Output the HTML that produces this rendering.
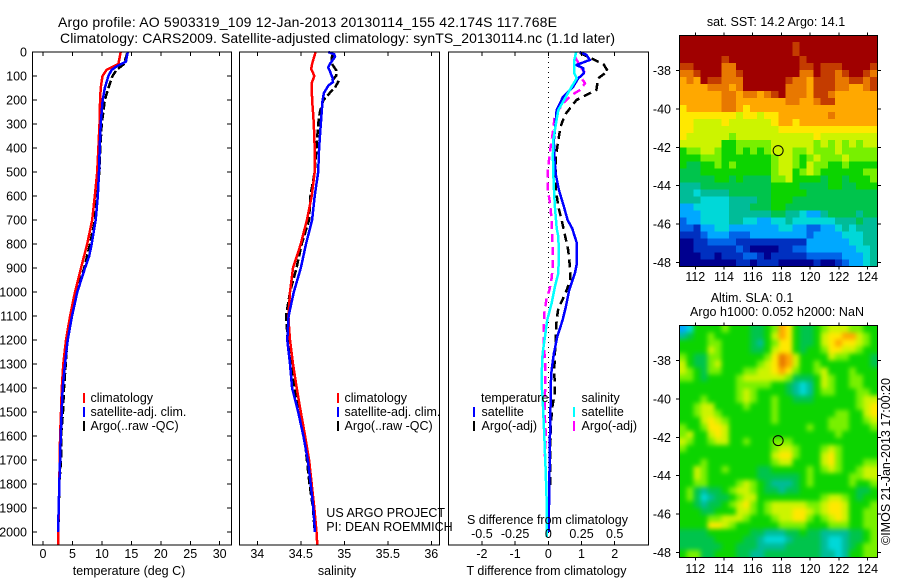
<!DOCTYPE html>
<html>
<head>
<meta charset="utf-8">
<title>Argo profile</title>
<style>
html,body{margin:0;padding:0;background:#fff;}
svg{display:block;font-family:"Liberation Sans",Arial,sans-serif;font-size:12.5px;fill:#000;}
text{fill:#000;}
.t14{font-size:14px;}
</style>
</head>
<body>
<svg id="fig" width="900" height="580" viewBox="0 0 900 580" xmlns="http://www.w3.org/2000/svg">
<defs>
<clipPath id="slaClip"><rect x="679.5" y="325.5" width="198" height="232"/></clipPath>
<filter id="slaBlur" filterUnits="userSpaceOnUse" x="650" y="300" width="250" height="280" color-interpolation-filters="sRGB"><feGaussianBlur stdDeviation="2.4"/></filter>
</defs>
<rect x="0" y="0" width="900" height="580" fill="#fff"/>
<text class="t14" x="58" y="27" textLength="499" lengthAdjust="spacing">Argo profile: AO 5903319_109 12-Jan-2013 20130114_155 42.174S 117.768E</text>
<text class="t14" x="60" y="43" textLength="555" lengthAdjust="spacing">Climatology: CARS2009. Satellite-adjusted climatology: synTS_20130114.nc (1.1d later)</text>
<g id="cells1"></g>
<g clip-path="url(#slaClip)"><g id="cells2" filter="url(#slaBlur)"></g></g>
<g id="marks"></g>
<g id="axes"></g>

<text x="90.5" y="402">climatology</text>
<text x="90.5" y="416">satellite-adj. clim.</text>
<text x="90.5" y="430">Argo(..raw -QC)</text>
<text x="344.5" y="402">climatology</text>
<text x="344.5" y="416">satellite-adj. clim.</text>
<text x="344.5" y="430">Argo(..raw -QC)</text>
<text x="481" y="402">temperature</text>
<text x="481.5" y="416">satellite</text>
<text x="481.5" y="430">Argo(-adj)</text>
<text x="581.5" y="402">salinity</text>
<text x="581.5" y="416">satellite</text>
<text x="581.5" y="430">Argo(-adj)</text>
<text x="326.3" y="517">US ARGO PROJECT</text>
<text x="326.3" y="531">PI: DEAN ROEMMICH</text>
<text x="467" y="524">S difference from climatology</text>
<text x="129" y="575" text-anchor="middle">temperature (deg C)</text>
<text x="337" y="575" text-anchor="middle">salinity</text>
<text x="546.5" y="575" text-anchor="middle">T difference from climatology</text>
<text x="776" y="26" text-anchor="middle">sat. SST: 14.2 Argo: 14.1</text>
<text x="710.7" y="302">Altim. SLA: 0.1</text>
<text x="690" y="316" textLength="174" lengthAdjust="spacing">Argo h1000: 0.052 h2000: NaN</text>
<text transform="translate(890,545) rotate(-90)" textLength="167" lengthAdjust="spacing">©IMOS 21-Jan-2013 17:00:20</text>
</svg>
<script>
// ---- tick labels ----
const depthTicks = [0,100,200,300,400,500,600,700,800,900,1000,1100,1200,1300,1400,1500,1600,1700,1800,1900,2000];
const tempTicks = [0,5,10,15,20,25,30];
const salTicks = [34,34.5,35,35.5,36];
const tDiffTicks = [-2,-1,0,1,2];
const sDiffTicks = [-0.5,-0.25,0,0.25,0.5];
const lonTicks = [112,114,116,118,120,122,124];
const latTicks = [38,40,42,44,46,48];
const argoLon = 117.768;
const argoLat = 42.174;

// ---- temperature profiles ----
const tempClimDepth = [0,50,74,100,150,200,300,400,500,600,700,800,900,1000,1100,1200,1300,1400,1500,1600,1700,1800,1900,2000,2054];
const tempClim = [13.2,12.8,10.8,10.1,9.8,9.7,9.6,9.4,9.2,8.8,8.35,7.5,6.45,5.43,4.6,3.9,3.45,3.2,3.05,2.9,2.83,2.77,2.67,2.6,2.6];
const tempSatDepth = [0,25,40,60,75,100,150,200,300,400,500,600,700,800,850,900,1000,1100,1200,1300,1400,1500,1600,1700,1800,1900,2000];
const tempSat = [14.4,14.2,14.1,12.5,11.65,11.1,10.5,10.13,9.8,9.62,9.5,9.3,8.95,8.26,7.85,7.13,5.83,4.92,4.2,3.73,3.34,3.17,3.0,2.9,2.77,2.67,2.55];
const tempArgoDepth = [5,50,75,100,150,200,250,300,400,500,600,700,800,900,1000,1100,1200,1300,1400,1500,1600,1700,1800,2000];
const tempArgo = [14.3,13.75,12.5,11.8,11.1,10.5,10.24,9.96,9.73,9.57,9.05,8.83,7.98,7.0,5.7,4.75,4.13,3.85,3.57,3.4,3.05,3.05,2.77,2.6];

// ---- salinity profiles ----
const salClimDepth = [0,25,50,70,100,130,200,250,300,400,500,600,700,800,900,1000,1100,1150,1200,1300,1400,1500,1600,1700,1800,1900,2000,2054];
const salClim = [34.67,34.65,34.63,34.62,34.655,34.625,34.63,34.64,34.65,34.66,34.66,34.625,34.57,34.5,34.41,34.376,34.357,34.365,34.376,34.41,34.453,34.5,34.55,34.595,34.625,34.655,34.68,34.69];
const salSatDepth = [0,10,20,50,65,80,110,125,140,170,200,250,300,400,500,600,700,800,900,1000,1100,1200,1300,1400,1500,1600,1700,1800,1900,2000];
const salSat = [34.816,34.885,34.893,34.835,34.815,34.835,34.867,34.87,34.817,34.767,34.75,34.74,34.73,34.71,34.7,34.66,34.63,34.56,34.5,34.42,34.36,34.345,34.376,34.4,34.47,34.53,34.58,34.614,34.644,34.663];
const salArgoDepth = [5,25,50,75,100,115,125,150,170,200,250,300,400,500,600,700,800,900,1000,1100,1200,1300,1400,1500,1600,1700,1800,1900,2000];
const salArgo = [34.87,34.855,34.86,34.905,34.905,34.87,34.93,34.89,34.835,34.76,34.72,34.7,34.68,34.66,34.61,34.594,34.51,34.45,34.376,34.33,34.35,34.395,34.425,34.49,34.54,34.57,34.6,34.64,34.66];

// ---- difference profiles ----
const dTSatDepth = [0,12,33,54,68,89,110,144,186,242,297,367,436,506,575,644,700,735,797,880,922,992,1061,1117,1186,1256,1325,1394,1458,1597,1806,2000];
const dTSat = [0.95,1.15,1.25,0.85,1.05,1.07,0.9,0.75,0.45,0.25,0.22,0.17,0.18,0.22,0.32,0.47,0.58,0.72,0.86,0.86,0.8,0.63,0.53,0.43,0.27,0.17,0.1,0.07,0.07,0.05,0.03,0.01];
const dTArgoDepth = [3,17,40,50,82,89,110,158,172,200,235,262,311,367,436,506,575,644,700,762,825,894,950,992,1026,1068,1117,1186,1256,1325,1422,1471,1540,1644,1811];
const dTArgo = [0.95,1.15,1.5,1.66,1.8,1.7,1.5,1.45,1.25,0.85,0.65,0.5,0.37,0.3,0.23,0.22,0.23,0.3,0.4,0.5,0.6,0.65,0.67,0.55,0.45,0.3,0.25,0.23,0.2,0.18,0.2,0.13,0.08,0.06,0.05];
const dSSatDepth = [0,33,89,110,144,186,242,297,367,436,506,575,644,735,769,839,922,978,1047,1117,1186,1256,1325,1394,1437,1506,1597,1736,1875,2020];
const dSSat = [0.21,0.196,0.196,0.214,0.176,0.133,0.075,0.058,0.038,0.035,0.038,0.043,0.05,0.063,0.075,0.08,0.075,0.05,0.025,-0.008,-0.025,-0.043,-0.048,-0.05,-0.043,-0.038,-0.03,-0.02,-0.012,-0.012];
const dSArgoDepth = [20,68,82,110,130,158,179,214,262,339,394,450,506,575,630,700,728,811,894,943,992,1026,1089,1158,1228,1283,1339,1422,1458,1506,1603,1686];
const dSArgo = [0.2,0.25,0.27,0.25,0.276,0.24,0.176,0.113,0.05,0.033,0.018,0.005,-0.005,-0.003,0.013,0.025,0.025,0.033,0.033,0.025,0.008,-0.013,-0.03,-0.035,-0.033,-0.025,-0.023,-0.025,-0.025,-0.028,-0.018,-0.028];

// ---- map colour levels (0 = navy ... 14 = dark red) ----
const colorLevels = ['#00008f','#0030c0','#0064e8','#00a8ff','#00d8d8','#00bc98','#00c44c','#0cd400','#78f000','#ccf400','#ffe800','#ffa800','#e87800','#c43c00','#a00000'];
const sstLevels = [
[14,14,14,14,14,14,14,14,14,14,14,14,14,14,14,14,14,14,14,14,14,14,14,14,14,14,14,14],
[14,14,14,14,14,14,14,14,14,14,14,14,14,14,14,14,13,14,14,14,14,14,14,14,14,14,14,14],
[14,14,14,14,14,14,14,14,14,14,14,14,14,14,14,14,13,14,14,14,14,14,14,14,14,14,14,14],
[14,14,14,14,14,14,13,14,14,14,14,14,14,14,14,14,14,13,14,14,14,14,14,14,14,14,14,14],
[13,13,14,14,14,14,12,12,14,14,14,14,14,14,14,14,14,13,13,14,13,13,13,14,14,14,14,13],
[12,12,13,14,14,14,12,12,13,14,14,14,14,14,14,14,14,12,12,14,13,13,12,13,14,14,13,12],
[11,12,11,14,13,13,12,12,12,14,14,14,14,14,14,13,12,12,11,13,13,13,12,12,13,13,12,13],
[11,11,11,11,12,12,12,11,12,14,14,14,14,14,14,12,12,12,11,13,13,13,12,12,11,11,12,13],
[11,11,11,11,11,11,12,12,11,12,12,11,12,13,14,12,12,12,11,13,13,12,11,11,11,11,11,11],
[11,11,11,11,11,11,12,12,11,11,11,11,11,11,11,12,12,11,11,12,13,13,11,11,11,11,11,11],
[10,11,11,11,11,11,12,12,11,10,11,11,11,11,11,11,11,11,11,11,11,11,11,11,11,11,11,11],
[10,10,10,10,10,10,10,10,9,10,10,9,10,10,11,11,11,11,11,11,11,12,11,11,11,11,11,11],
[10,10,9,9,9,9,10,9,9,9,9,9,9,10,11,11,10,11,11,11,11,11,11,11,11,11,11,11],
[10,10,9,9,9,9,9,9,9,9,9,9,9,9,10,10,10,10,10,10,10,10,10,10,10,10,10,10],
[10,9,9,9,9,9,9,8,9,9,9,9,9,9,9,9,9,9,9,10,9,9,9,9,9,9,9,9],
[9,9,9,9,9,9,7,7,8,8,8,8,8,9,9,9,9,9,9,8,9,8,9,8,9,8,9,9],
[7,8,8,9,9,8,7,7,8,7,8,7,8,9,9,9,8,8,9,8,8,8,9,8,8,8,8,8],
[7,7,7,8,8,8,7,7,7,7,7,7,7,8,9,9,8,7,8,9,8,8,8,9,8,8,8,8],
[7,6,6,7,7,8,7,8,7,7,7,7,7,8,9,9,8,7,9,8,8,7,7,8,7,7,7,7],
[6,6,6,7,7,7,7,7,7,7,7,7,7,8,9,9,7,8,9,8,7,7,7,7,7,7,8,8],
[6,6,6,6,6,7,7,6,7,6,6,6,6,8,8,9,7,7,7,7,6,7,7,6,7,7,7,8],
[5,5,5,6,6,6,6,6,6,6,6,6,6,7,7,7,7,6,6,6,6,7,7,6,6,7,7,7],
[5,5,4,5,5,5,5,6,6,6,6,6,6,7,7,7,7,7,6,6,6,6,6,6,6,6,6,6],
[5,5,5,4,4,4,4,5,5,5,5,6,6,7,7,7,6,6,6,6,6,6,6,6,6,6,6,6],
[3,3,4,4,4,4,4,5,5,5,6,6,6,7,7,6,6,6,6,6,6,6,6,6,6,6,6,6],
[3,3,3,4,4,4,4,5,5,5,5,5,5,6,6,5,5,4,3,3,5,6,6,6,6,5,6,6],
[2,3,3,4,4,4,4,5,5,4,4,3,3,4,4,5,4,4,4,4,4,4,5,5,5,6,5,5],
[2,2,1,3,3,4,4,3,3,3,3,3,3,3,4,4,3,3,2,2,3,3,4,5,4,5,5,5],
[1,1,1,2,3,3,3,2,2,2,3,3,3,3,3,3,3,3,2,3,3,3,3,4,4,4,5,5],
[0,0,1,1,2,2,2,2,1,1,1,1,1,1,1,1,1,1,3,3,3,3,3,3,4,4,5,5],
[0,0,1,1,1,1,1,1,2,1,0,0,0,0,1,1,2,2,3,3,3,3,3,3,3,4,4,5],
[0,0,0,1,1,0,1,1,1,2,2,1,0,1,1,1,1,1,2,2,2,2,2,3,3,3,4,5],
[0,0,0,0,0,0,0,0,1,1,0,1,1,1,0,0,0,0,0,1,0,0,1,2,3,3,4,5]
];
const slaLevels = [
[3,4,7,7,7,7,8,7,7,7,6,6,7,8,11,10,7,6,6,7,8,9,9,9,8,8,7,7],
[5,6,7,7,8,7,7,7,7,7,6,6,7,9,11,10,7,6,6,7,9,10,10,11,11,9,8,7],
[7,7,7,7,8,8,7,7,7,7,6,5,7,8,10,10,7,6,6,7,9,10,11,10,10,9,8,7],
[7,7,7,7,9,8,7,7,7,7,6,6,7,9,10,10,7,6,7,7,8,10,10,9,9,8,7,7],
[8,7,6,6,8,8,7,7,7,7,7,7,8,10,12,11,9,7,7,7,7,9,8,8,7,7,7,6],
[9,7,6,6,8,9,7,7,7,7,7,8,9,10,12,11,9,7,7,8,7,7,7,7,7,7,7,6],
[9,8,7,6,8,8,7,7,7,8,8,9,9,10,11,10,8,7,7,8,9,7,7,7,8,7,7,7],
[8,8,7,6,7,7,7,7,8,9,9,9,9,9,9,8,6,6,6,7,9,8,7,7,8,8,7,7],
[7,7,7,7,7,7,7,7,8,8,8,8,8,7,7,6,5,4,5,7,9,8,7,7,8,8,7,7],
[7,7,7,7,7,7,7,7,8,9,8,7,7,7,7,6,5,4,5,7,8,8,7,7,7,8,8,7],
[7,7,7,8,7,7,7,7,8,9,8,7,7,8,7,7,6,6,6,7,7,7,7,7,7,8,9,9],
[7,7,8,9,9,7,7,7,7,8,7,7,7,8,7,7,7,7,7,7,7,7,7,7,7,8,9,10],
[7,7,8,9,9,8,7,7,7,7,7,7,7,8,7,7,7,7,7,7,7,7,8,8,7,7,9,10],
[7,7,7,9,10,9,8,7,7,7,7,7,7,8,7,7,7,7,7,7,7,8,8,8,7,7,8,9],
[8,7,7,8,10,10,9,7,7,7,7,7,7,7,7,7,7,7,8,7,7,8,8,8,7,7,7,8],
[8,9,7,7,9,10,9,7,7,7,7,7,7,7,7,7,7,7,7,7,7,7,8,7,7,7,7,7],
[9,8,7,7,8,9,9,7,7,8,7,7,7,8,8,8,7,7,7,7,7,7,7,7,7,7,7,7],
[8,7,7,7,7,7,7,7,7,7,7,7,7,8,9,9,8,7,7,7,8,9,8,7,7,7,7,7],
[7,7,7,7,7,7,7,7,7,7,7,7,7,9,10,10,8,7,7,7,9,10,8,7,7,7,7,7],
[7,7,7,8,7,7,7,7,7,7,7,7,7,8,9,9,7,7,7,7,9,10,8,7,7,7,8,8],
[7,7,9,8,7,7,8,7,7,7,7,6,6,7,7,7,7,7,8,7,8,9,8,7,7,8,9,9],
[7,7,9,8,7,7,7,7,7,7,7,6,6,6,6,6,6,7,8,7,7,7,7,7,8,8,9,9],
[7,7,8,8,7,7,7,7,8,9,8,7,6,5,5,5,6,7,8,7,7,7,7,7,8,7,7,8],
[7,8,6,5,6,6,7,8,9,9,8,7,6,6,5,6,6,7,7,7,7,7,7,7,7,6,6,7],
[7,8,6,4,5,6,6,7,8,9,9,7,7,7,7,7,7,7,7,7,8,9,9,8,7,6,7,7],
[7,7,6,5,6,6,7,8,9,10,8,7,8,9,9,9,9,9,8,8,9,10,10,9,7,7,7,8],
[7,7,7,6,6,7,7,7,9,9,8,7,8,9,9,9,10,10,9,8,9,10,10,9,7,7,8,8],
[7,7,7,7,8,8,9,9,9,8,7,7,7,8,9,9,10,10,8,7,8,9,10,9,7,7,8,8],
[7,7,7,7,10,10,9,8,7,7,7,7,7,7,8,8,8,8,7,7,7,8,8,8,7,7,8,8],
[6,6,6,6,7,7,7,7,7,7,6,6,5,5,5,6,6,7,6,6,5,5,5,5,6,6,7,8],
[6,6,6,6,6,7,7,7,7,6,6,5,4,4,4,5,6,6,6,6,5,4,4,5,6,6,7,8],
[6,6,6,6,6,6,7,7,6,6,6,5,5,5,5,6,6,6,6,6,5,4,4,5,6,7,8,8],
[7,8,8,6,6,7,7,7,6,6,5,5,6,6,6,6,6,6,6,6,5,5,4,5,7,7,8,8]
];

// ---- axis functions ----
const yDepth = d => 52 + 0.24 * d;
const xTemp = v => 43 + 5.89 * v;
const xSal = v => 257.3 + 87 * (v - 34);
const xDT = v => 548.3 + 33.2 * v;
const xDS = v => 548.3 + 132.8 * v;
const xLon = v => 695.3 + 14.36 * (v - 112);
const yLat1 = v => 70.3 + 19.24 * (v - 38);
const yLat2 = v => 360.3 + 19.24 * (v - 38);

const NS = 'http://www.w3.org/2000/svg';
const marks = document.getElementById('marks');
const axes = document.getElementById('axes');
function mk(parent, tag, attrs, txt) {
  const e = document.createElementNS(NS, tag);
  for (const k in attrs) e.setAttribute(k, attrs[k]);
  if (txt !== undefined) e.textContent = txt;
  parent.appendChild(e);
  return e;
}
function line(x1, y1, x2, y2, name, w, col, dash) {
  const e = mk(axes, 'line', {x1, y1, x2, y2, stroke: col || '#000', 'stroke-width': w || 1, 'shape-rendering': 'crispEdges'});
  if (dash) e.setAttribute('stroke-dasharray', dash);
  
  
  return e;
}
function label(x, y, s, anchor, name) {
  const e = mk(axes, 'text', {x, y, 'text-anchor': anchor}, s);
  
  
  return e;
}
function frame(x0, y0, x1, y1, name) {
  const e = mk(axes, 'rect', {x: x0, y: y0, width: x1 - x0, height: y1 - y0, fill: 'none', stroke: '#000', 'stroke-width': 1, 'shape-rendering': 'crispEdges'});
  
  
}
function profile(xf, depths, values, col, dash, name) {
  const pts = values.map((v, i) => xf(v).toFixed(1) + ',' + yDepth(depths[i]).toFixed(1)).join(' ');
  const e = mk(marks, 'polyline', {points: pts, fill: 'none', stroke: col, 'stroke-width': 2.5, 'shape-rendering': 'crispEdges'});
  if (dash) e.setAttribute('stroke-dasharray', dash);
  
  
}
function legendBar(x, y0, y1, col, name) {
  const e = mk(axes, 'line', {x1: x, y1: y0, x2: x, y2: y1, stroke: col, 'stroke-width': 2, 'shape-rendering': 'crispEdges'});
  
  
}

// ---- heat maps ----
function drawMap(groupId, levels, yLat, latTop, latBottom, namePrefix, bleed) {
  const g = document.getElementById(groupId);
  const lonL = 110.886, lonR = 124.67;
  const rows = levels.length, cols = levels[0].length;
  levels.forEach((row, r) => row.forEach((lv, c) => {
    let x0 = xLon(lonL + (lonR - lonL) * c / cols), x1 = xLon(lonL + (lonR - lonL) * (c + 1) / cols);
    let y0 = yLat(latTop + (latBottom - latTop) * r / rows), y1 = yLat(latTop + (latBottom - latTop) * (r + 1) / rows);
    if (c === 0) x0 -= bleed;
    if (c === cols - 1) x1 += bleed;
    if (r === 0) y0 -= bleed;
    if (r === rows - 1) y1 += bleed;
    const e = mk(g, 'rect', {x: x0.toFixed(1), y: y0.toFixed(1), width: (x1 - x0 + 0.6).toFixed(1), height: (y1 - y0 + 0.6).toFixed(1), fill: colorLevels[lv], 'shape-rendering': 'crispEdges'});
    
    
  }));
}
drawMap('cells1', sstLevels, yLat1, 36.165, 48.2, 'sst', 0);
drawMap('cells2', slaLevels, yLat2, 36.2, 48.22, 'sla', 10);

// ---- zero line in difference panel (under the series) ----
const zeroLine = mk(marks, 'line', {x1: xDT(0), y1: 52, x2: xDT(0), y2: 545, stroke: '#000', 'stroke-width': 1, 'stroke-dasharray': '1 4', 'shape-rendering': 'crispEdges'});



// ---- series ----
profile(xTemp, tempArgoDepth, tempArgo, '#000', '8 3', 'temperature-argo-line');
profile(xTemp, tempClimDepth, tempClim, '#ff0000', null, 'temperature-climatology-line');
profile(xTemp, tempSatDepth, tempSat, '#0000ff', null, 'temperature-satellite-line');
profile(xSal, salArgoDepth, salArgo, '#000', '8 3', 'salinity-argo-line');
profile(xSal, salClimDepth, salClim, '#ff0000', null, 'salinity-climatology-line');
profile(xSal, salSatDepth, salSat, '#0000ff', null, 'salinity-satellite-line');
profile(xDT, dTArgoDepth, dTArgo, '#000', '8 5', 'tdiff-argo-line');
profile(xDS, dSArgoDepth, dSArgo, '#ff00ff', '8 5', 'sdiff-argo-line');
profile(xDT, dTSatDepth, dTSat, '#0000ff', null, 'tdiff-satellite-line');
profile(xDS, dSSatDepth, dSSat, '#00ffff', null, 'sdiff-satellite-line');

// ---- panel frames & ticks ----
const top0 = 52, bot0 = 545;
frame(32.5, top0, 231.5, bot0, 'temperature-panel-frame');
frame(239.5, top0, 439.5, bot0, 'salinity-panel-frame');
frame(448.5, top0, 648.5, bot0, 'difference-panel-frame');
depthTicks.forEach(d => {
  const y = yDepth(d);
  if (d > 0) {
    line(32.5, y, 37, y, 'depth-tick-left', 1);
    line(227, y, 231.5, y, 'depth-tick-right', 1);
  }
  label(27, y + 4.5, String(d), 'end', 'depth-tick-label');
});
tempTicks.forEach(v => {
  const x = xTemp(v);
  line(x, top0, x, top0 + 4, 'temperature-tick-top', 1);
  line(x, bot0 - 4, x, bot0, 'temperature-tick-bottom', 1);
  label(x, 558, String(v), 'middle', 'temperature-tick-label');
});
salTicks.forEach(v => {
  const x = xSal(v);
  line(x, top0, x, top0 + 4, 'salinity-tick-top', 1);
  line(x, bot0 - 4, x, bot0, 'salinity-tick-bottom', 1);
  label(x, 558, String(v), 'middle', 'salinity-tick-label');
});
tDiffTicks.forEach(v => {
  const x = xDT(v);
  line(x, top0, x, top0 + 4, 'tdiff-tick-top', 1);
  line(x, bot0 - 4, x, bot0, 'tdiff-tick-bottom', 1);
  label(x, 558, String(v), 'middle', 'tdiff-tick-label');
});
sDiffTicks.forEach(v => {
  label(xDS(v), 538, String(v), 'middle', 'sdiff-tick-label');
});

// ---- legend swatches ----
[[84, 393, 403, '#ff0000', 'temp-legend-swatch-climatology'], [84, 407, 417, '#0000ff', 'temp-legend-swatch-satellite'], [84, 421, 431, '#000', 'temp-legend-swatch-argo'],
 [338, 393, 403, '#ff0000', 'sal-legend-swatch-climatology'], [338, 407, 417, '#0000ff', 'sal-legend-swatch-satellite'], [338, 421, 431, '#000', 'sal-legend-swatch-argo'],
 [474, 407, 417, '#0000ff', 'diff-legend-swatch-temp-satellite'], [474, 421, 431, '#000', 'diff-legend-swatch-temp-argo'],
 [574, 407, 417, '#00ffff', 'diff-legend-swatch-sal-satellite'], [574, 421, 431, '#ff00ff', 'diff-legend-swatch-sal-argo']
].forEach(b => legendBar(b[0], b[1], b[2], b[3], b[4]));

// ---- map frames, ticks, markers ----
function mapAxes(top, bottom, yLat, xLabelY, prefix) {
  frame(679.5, top, 877.5, bottom, prefix + '-map-frame');
  lonTicks.forEach(v => {
    const x = xLon(v);
    line(x, top - 3, x, top, prefix + '-lon-tick-top', 1);
    line(x, bottom, x, bottom + 3, prefix + '-lon-tick-bottom', 1);
    label(x, xLabelY, String(v), 'middle', prefix + '-lon-tick-label');
  });
  latTicks.forEach(v => {
    const y = yLat(v);
    line(676, y, 679.5, y, prefix + '-lat-tick-left', 1);
    line(877.5, y, 881, y, prefix + '-lat-tick-right', 1);
    label(671, y + 4.5, '-' + v, 'end', prefix + '-lat-tick-label');
  });
  const c = mk(axes, 'circle', {cx: xLon(argoLon), cy: yLat(argoLat), r: 5, fill: 'none', stroke: '#000', 'stroke-width': 1});
  
  
}
mapAxes(35.5, 266.5, yLat1, 281, 'sst');
mapAxes(325.5, 557.5, yLat2, 573, 'sla');
</script>
</body>
</html>
